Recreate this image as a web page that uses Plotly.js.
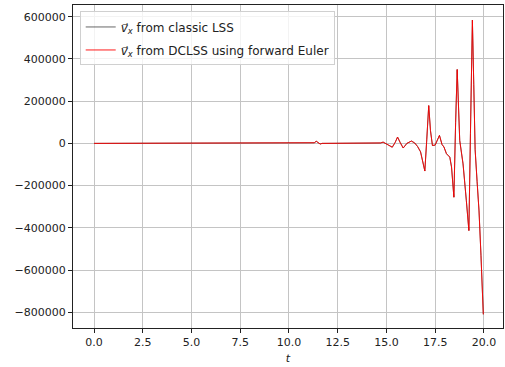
<!DOCTYPE html>
<html>
<head>
<meta charset="utf-8">
<script src="https://cdn.plot.ly/plotly-3.0.1.min.js"></script>
<style>html,body{margin:0;padding:0;background:#fff;}#chart{width:505px;height:367px;}</style>
</head>
<body>
<div id="chart"></div>
<script>
// time samples (t) and v_x values
const timeT = [0, 11.0, 11.3, 11.4, 11.5, 11.6, 11.7, 14.5, 14.7, 14.83, 14.95, 15.1, 15.3, 15.45, 15.57, 15.7, 15.86, 16.05, 16.28, 16.45, 16.6, 16.75, 16.88, 16.97, 17.07, 17.17, 17.26, 17.36, 17.5, 17.6, 17.72, 17.85, 17.95, 18.08, 18.25, 18.34, 18.46, 18.55, 18.63, 18.76, 18.93, 19.1, 19.23, 19.31, 19.41, 19.48, 19.55, 19.65, 19.75, 19.85, 19.97];
const classicLSS = [0, 0, 3000, 10000, 2000, -3000, 0, 0, 2000, 6000, 0, -8000, -18000, 5000, 30000, 5000, -22000, 0, 11000, 2000, -15000, -40000, -90000, -131000, 20000, 179000, 60000, -10000, -8000, 15000, 38000, -5000, -17000, -49000, -65000, -112000, -255000, 100000, 350000, 14000, -97000, -271000, -413000, 46000, 584000, 280000, -30000, -180000, -320000, -530000, -810000];
const dclssEuler = [0, 0, 3000, 10000, 2000, -3000, 0, 0, 2000, 6000, 0, -8000, -18000, 5000, 30000, 5000, -22000, 0, 11000, 2000, -15000, -40000, -90000, -131000, 20000, 179000, 60000, -10000, -8000, 15000, 38000, -5000, -17000, -49000, -65000, -112000, -255000, 100000, 350000, 14000, -97000, -271000, -413000, 46000, 584000, 280000, -30000, -180000, -320000, -530000, -810000];
const seriesNames = ['<i>v\u20D7</i><sub><i>x</i></sub> from classic LSS', '<i>v\u20D7</i><sub><i>x</i></sub> from DCLSS using forward Euler'];
const xTickVals = [0, 2.5, 5, 7.5, 10, 12.5, 15, 17.5, 20];
const xTickText = ['0.0', '2.5', '5.0', '7.5', '10.0', '12.5', '15.0', '17.5', '20.0'];
const yTickVals = [600000, 400000, 200000, 0, -200000, -400000, -600000, -800000];
const yTickText = ['600000', '400000', '200000', '0', '\u2212200000', '\u2212400000', '\u2212600000', '\u2212800000'];

const traces = [
  {x: timeT, y: classicLSS, type: 'scatter', mode: 'lines', name: seriesNames[0], legendgroup: 'a', line: {color: '#000000', width: 0.6}},
  {x: timeT, y: dclssEuler, type: 'scatter', mode: 'lines', name: seriesNames[1], legendgroup: 'b', line: {color: '#ff0000', width: 0.9}}
];
const axisCommon = {
  showline: true, linecolor: '#222', linewidth: 1, mirror: true,
  ticks: 'outside', ticklen: 4, tickcolor: '#222', tickwidth: 1,
  showgrid: true, gridcolor: '#c4c4c4', gridwidth: 1, zeroline: false,
  tickfont: {family: 'DejaVu Sans', size: 11, color: '#222'}
};
const layout = {
  width: 505, height: 367,
  margin: {l: 73, r: 2, t: 5, b: 39},
  paper_bgcolor: '#fff', plot_bgcolor: '#fff',
  font: {family: 'DejaVu Sans', size: 11, color: '#222'},
  showlegend: true,
  legend: {x: 0.0156, y: 0.98, xanchor: 'left', yanchor: 'top', bgcolor: 'rgba(255,255,255,0.8)', bordercolor: '#d0d0d0', borderwidth: 1, tracegroupgap: 4, font: {family: 'DejaVu Sans', size: 12, color: '#222'}},
  xaxis: Object.assign({}, axisCommon, {range: [-1.08, 20.98], tickmode: 'array', tickvals: xTickVals, ticktext: xTickText, title: {text: '<i>t</i>', font: {family: 'DejaVu Sans', size: 11, color: '#222'}, standoff: 6}}),
  yaxis: Object.assign({}, axisCommon, {range: [-874600, 655600], tickmode: 'array', tickvals: yTickVals, ticktext: yTickText})
};
Plotly.newPlot('chart', traces, layout, {displayModeBar: false, staticPlot: true});
</script>
</body>
</html>
